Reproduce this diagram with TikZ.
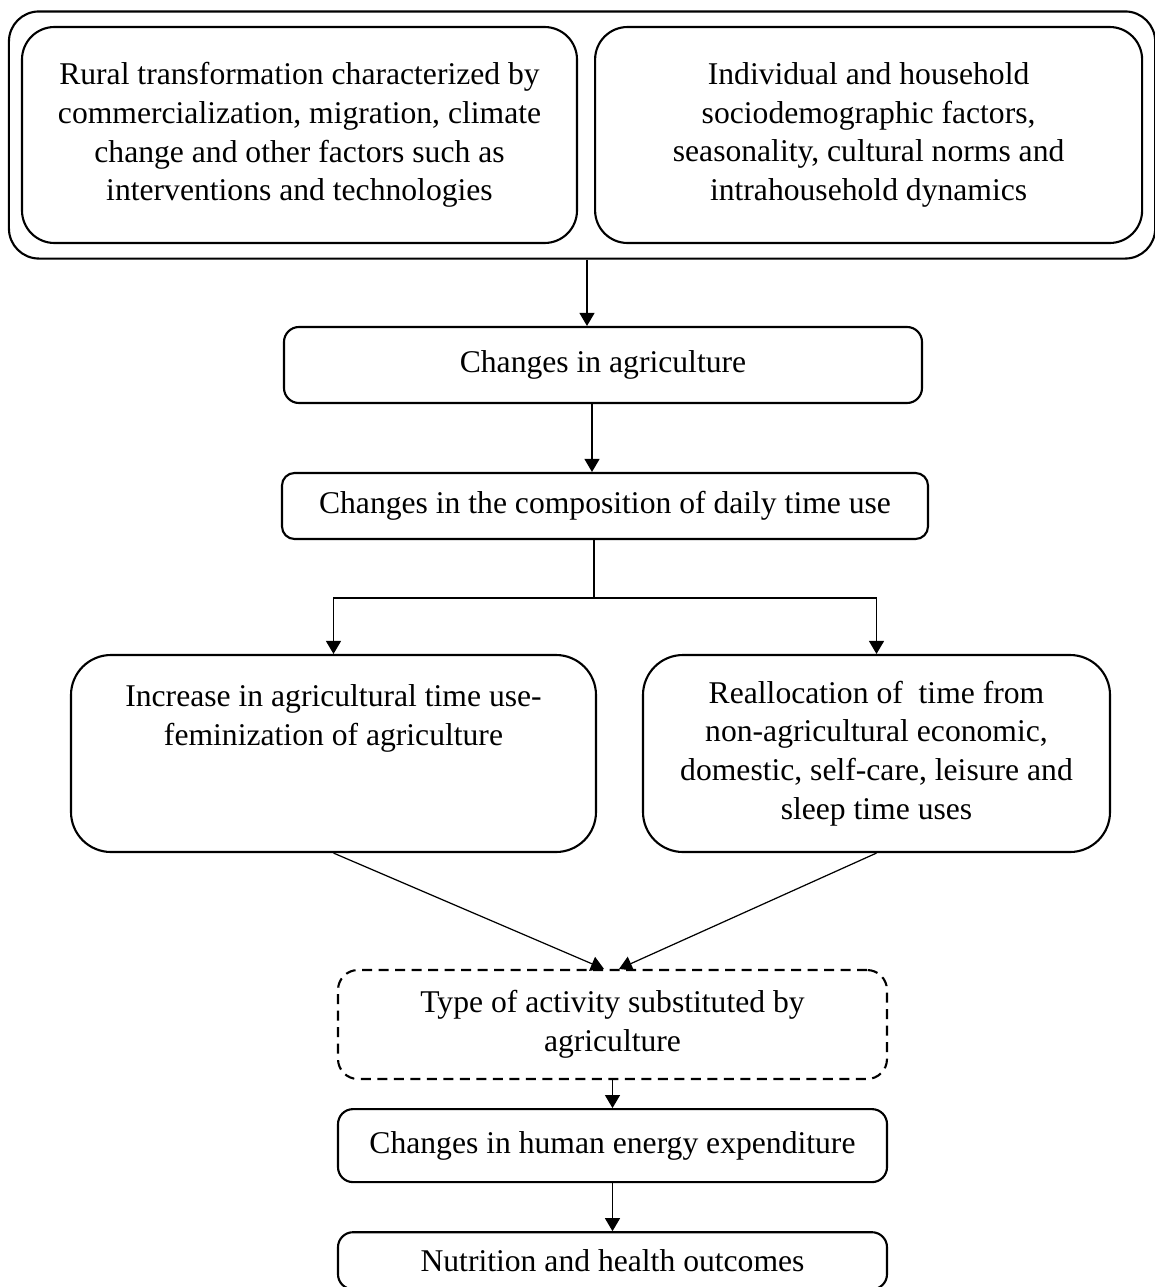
\documentclass[tikz,border=0pt]{standalone}
\usepackage{fontspec}
\setmainfont{Liberation Serif}
\usetikzlibrary{arrows.meta, positioning, fit}

\begin{document}
\begin{tikzpicture}[
    box/.style={rectangle, rounded corners=0.3cm, draw, line width=1.2pt,
                minimum height=1.46cm, font=\fontsize{18}{22}\selectfont,
                align=center, inner sep=0pt},
    topbox/.style={box, rounded corners=0.65cm, minimum width=11.1cm, minimum height=4.32cm},
    midbox/.style={box, rounded corners=0.8cm, minimum height=3.94cm},
    arrow/.style={-{Triangle[length=0.26cm, width=0.3cm]}, line width=0.7pt},
    link/.style={line width=0.7pt},
]
\useasboundingbox (0,0) rectangle (23.1,-25.74);

% drivers
\node[topbox] (rural) at (5.99,-2.7) {Rural transformation characterized by\\commercialization, migration, climate\\change and other factors such as\\interventions and technologies};
\node[topbox, minimum width=10.94cm, right=0.32cm of rural] (house) {Individual and household\\sociodemographic factors,\\seasonality, cultural norms and\\intrahousehold dynamics};
\node[draw, line width=1.2pt, rounded corners=0.6cm, inner xsep=0.24cm, inner ysep=0.29cm, fit=(rural)(house)] (drivers) {};

% chain
\node[box, minimum width=12.76cm, minimum height=1.52cm] (agri) at (12.06,-7.3) {Changes in agriculture};
\node[box, minimum width=12.92cm, minimum height=1.32cm, rounded corners=0.25cm] (comp) at (12.1,-10.12) {Changes in the composition of daily time use};
\node[midbox, minimum width=10.5cm] (incr) at (6.67,-15.07) {Increase in agricultural time use-\\feminization of agriculture\\\mbox{}\\\mbox{}};
\node[midbox, minimum width=9.34cm] (realloc) at (17.53,-15.07) {Reallocation of~ time from\\non-agricultural economic,\\domestic, self-care, leisure and\\sleep time uses};
\node[box, minimum width=10.98cm, minimum height=2.18cm, rounded corners=0.4cm, dash pattern=on 0.2cm off 0.13cm] (subst) at (12.25,-20.49) {Type of activity substituted by\\agriculture};
\node[box, minimum width=10.98cm, below=0.56cm of subst] (energy) {Changes in human energy expenditure};
\node[box, minimum width=10.98cm, minimum height=1.14cm, below=0.96cm of energy] (nutr) {Nutrition and health outcomes};

\draw[arrow] ([xshift=-0.32cm]agri.north |- drivers.south) -- ([xshift=-0.32cm]agri.north);
\draw[arrow] ([xshift=-0.22cm]agri.south) -- ([xshift=-0.22cm]agri.south |- comp.north);
\draw[link] ([xshift=-0.22cm]comp.south) -- ++(0,-1.16) coordinate (split);
\draw[arrow] (split) -| (incr.north);
\draw[arrow] (split) -| (realloc.north);
\draw[arrow] (incr.south) -- ([xshift=-0.17cm]subst.north);
\draw[arrow] (realloc.south) -- ([xshift=0.13cm]subst.north);
\draw[arrow] (subst.south) -- (energy.north);
\draw[arrow] (energy.south) -- (nutr.north);

\end{tikzpicture}
\end{document}
